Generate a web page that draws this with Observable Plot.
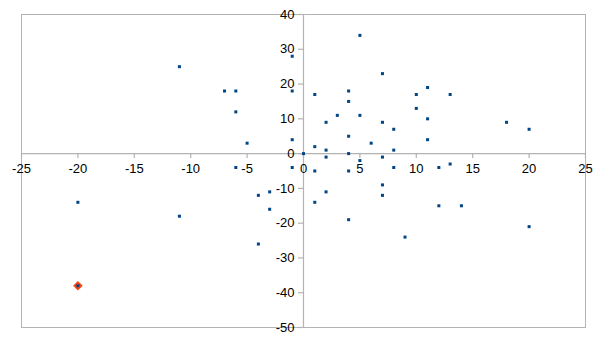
<!DOCTYPE html>
<html>
<head>
<meta charset="utf-8">
<script src="https://cdn.jsdelivr.net/npm/d3@7"></script>
<script src="https://cdn.jsdelivr.net/npm/@observablehq/plot@0.6"></script>
<style>
  html, body { margin: 0; padding: 0; background: #fff; }
  #chart svg { display: block; }
</style>
</head>
<body>
<div id="chart"></div>
<script>
// Data
const xs = [-20, -11, -11, -7, -6, -6, -6, -5, -4, -4, -3, -3, -1, -1, -1, -1, 0, 1, 1, 1, 1, 2, 2, 2, 2, 3, 4, 4, 4, 4, 4, 4, 5, 5, 5, 6, 7, 7, 7, 7, 7, 8, 8, 8, 9, 10, 10, 11, 11, 11, 12, 12, 13, 13, 14, 18, 20, 20, -20];
const ys = [-14, 25, -18, 18, 18, 12, -4, 3, -12, -26, -11, -16, 28, 18, 4, -4, 0, 17, 2, -5, -14, 9, 1, -1, -11, 11, 18, 15, 5, 0, -5, -19, 34, 11, -2, 3, 23, 9, -1, -9, -12, 7, 1, -4, -24, 17, 13, 19, 10, 4, -4, -15, 17, -3, -15, 9, 7, -21, -38];
const highlightX = [-20];
const highlightY = [-38];
const xTicks = [-25, -20, -15, -10, -5, 0, 5, 10, 15, 20, 25];
const yTicks = [-50, -40, -30, -20, -10, 0, 10, 20, 30, 40];

const points = xs.map((x, i) => ({x, y: ys[i]}));
const highlight = highlightX.map((x, i) => ({x, y: highlightY[i]}));

const gray = "#b3b3b3";
const font = "'Liberation Sans', Arial, sans-serif";

const chart = Plot.plot({
  width: 605,
  height: 340,
  marginLeft: 21,
  marginRight: 20,
  marginTop: 14,
  marginBottom: 13,
  style: {fontFamily: font, fontSize: "13px", background: "#fff", color: "#000"},
  x: {domain: [-25, 25], axis: null},
  y: {domain: [-50, 40], axis: null},
  marks: [
    Plot.frame({stroke: gray, strokeWidth: 1}),
    Plot.ruleY([0], {stroke: gray, strokeWidth: 1.2}),
    Plot.ruleX([0], {stroke: gray, strokeWidth: 1.2}),
    Plot.ruleX(xTicks, {x: d => d, y1: 0, y2: 0, insetBottom: -5, stroke: gray, strokeWidth: 1.2}),
    Plot.ruleY(yTicks, {y: d => d, x1: 0, x2: 0, insetLeft: -5, stroke: gray, strokeWidth: 1.2}),
    Plot.text(xTicks, {x: d => d, y: 0, dy: 15, text: d => String(d), fill: "#000", fontSize: 13}),
    Plot.text(yTicks, {x: 0, y: d => d, dx: -9, textAnchor: "end", text: d => String(d), fill: "#000", fontSize: 13}),
    Plot.dot(highlight, {x: "x", y: "y", symbol: "diamond2", r: 4.3, fill: "#ff420e", stroke: "none"}),
    Plot.dot(points, {x: "x", y: "y", symbol: "square", r: 1.7, fill: "#004586", stroke: "none"})
  ]
});
document.getElementById("chart").appendChild(chart);
</script>
</body>
</html>
